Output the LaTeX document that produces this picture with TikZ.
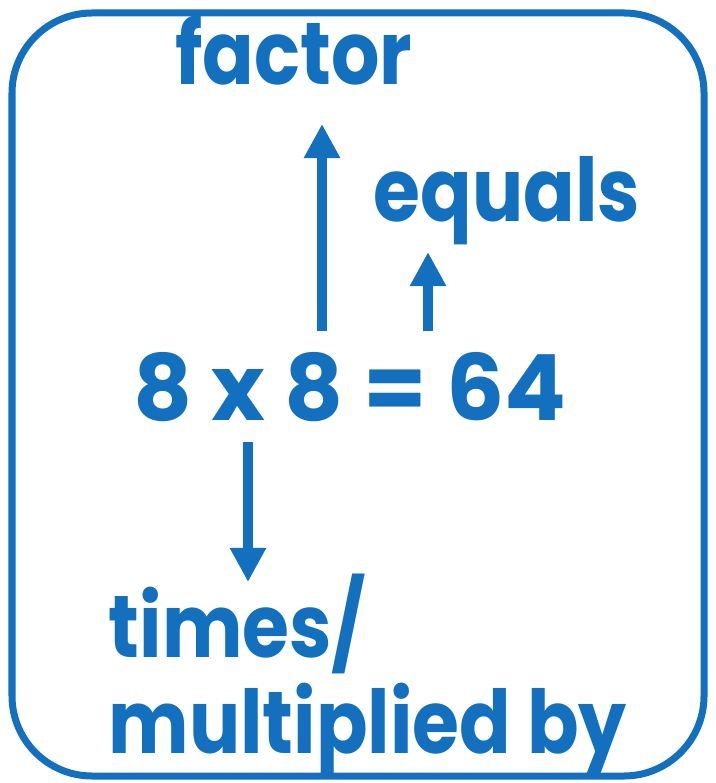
\documentclass[tikz,border=0pt]{standalone}
\usepackage{fontspec}
\setmainfont{Poppins}
\newfontfamily\narrowfont{Poppins}[FakeStretch=0.865]
\usepackage{tikz}
\usetikzlibrary{arrows.meta,positioning}
\definecolor{mblue}{RGB}{18,112,190}

\begin{document}
\begin{tikzpicture}[x=0.01cm,y=-0.01cm,
    lbl/.style={mblue,inner sep=0pt,font=\narrowfont\fontsize{25}{27.3}\selectfont\bfseries},
    sum/.style={mblue,inner sep=0pt,font=\fontsize{26}{28}\selectfont\bfseries},
    arr/.style={mblue,line width=0.1cm,-{Triangle[width=0.34cm,length=0.34cm]}}]
  \useasboundingbox (0,0) rectangle (715,783);
  \draw[mblue,line width=0.07cm,rounded corners=0.8cm] (12,13) rectangle (704,776);
  \node[lbl,anchor=base] (factor) at (294,85) {factor};
  \node[lbl,anchor=base west] (equals) at (373,222) {equals};
  \node[sum,anchor=base] (eqn) at (350,420) {8 x 8 = 64};
  \node[lbl,anchor=base west,align=left] (times) at (108,753) {times/\\multiplied by};
  \coordinate (fhead) at (322,124);
  \coordinate (ehead) at (428,252);
  \coordinate (thead) at (248,582);
  \draw[arr,shorten <=0.2cm] (eqn.north -| fhead) -- (fhead);
  \draw[arr,shorten <=0.2cm] (eqn.north -| ehead) -- (ehead);
  \draw[arr,shorten <=0.2cm] (eqn.south -| thead) -- (thead);
\end{tikzpicture}
\end{document}
